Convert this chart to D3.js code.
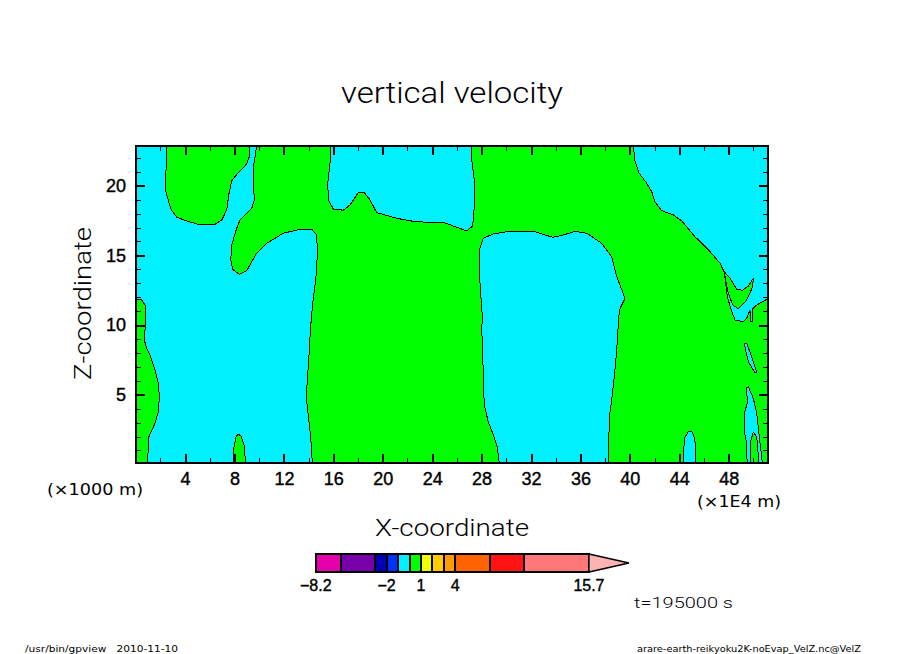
<!DOCTYPE html>
<html>
<head>
<meta charset="utf-8">
<script src="https://cdn.jsdelivr.net/npm/d3@7"></script>
<style>
  html, body { margin: 0; padding: 0; background: #fff; }
  text { font-family: "DejaVu Sans", "Liberation Sans", sans-serif; fill: #000; }
  .contour { stroke: #000; stroke-width: 1; shape-rendering: crispEdges; }
</style>
</head>
<body>
<svg id="chart"></svg>
<script>
// Constant values
const width = 904;
const height = 654;
const margin = { top: 146, right: 136, bottom: 191, left: 136 };

const CYAN = "#00f0ff";
const GREEN = "#00ff00";

// Axis domains and ticks
const xDomain = [0.03, 51.18];
const zDomain = [0.1, 22.85];
const xMajor = [4, 8, 12, 16, 20, 24, 28, 32, 36, 40, 44, 48];
const xMinor = [2, 6, 10, 14, 18, 22, 26, 30, 34, 38, 42, 46, 50];
const zMajor = [5, 10, 15, 20];
const zMinor = [1, 2, 3, 4, 6, 7, 8, 9, 11, 12, 13, 14, 16, 17, 18, 19, 21, 22];

// Contour outlines, [x, z]
const greenTopLeft = [[2.48, 22.85], [2.48, 21.28], [2.40, 20.65], [2.40, 19.70], [2.60, 19.10], [2.86, 18.31], [3.33, 17.74], [4.14, 17.47], [5.07, 17.23], [6.43, 17.23], [6.97, 17.54], [7.37, 18.26], [7.56, 19.46], [7.78, 20.36], [8.31, 20.94], [8.99, 21.56], [9.20, 22.09], [9.23, 22.85]];
const greenLeftEdge = [[0.03, 11.85], [0.49, 11.80], [0.79, 11.39], [0.79, 10.00], [0.70, 8.93], [0.90, 8.33], [1.22, 7.73], [1.57, 6.77], [1.84, 5.82], [1.92, 4.86], [1.84, 3.78], [1.57, 2.95], [1.08, 1.99], [0.98, 0.46], [0.95, 0.1], [0.03, 0.1]];
const greenBump = [[7.91, 0.1], [7.94, 1.15], [8.13, 1.99], [8.31, 2.16], [8.53, 2.04], [8.77, 1.39], [8.91, 0.1]];
const greenMain = [[9.80, 22.85], [9.58, 21.61], [9.53, 20.18], [9.61, 18.98], [9.40, 18.38], [8.45, 17.54], [8.18, 16.95], [7.78, 15.75], [7.70, 14.67], [7.86, 14.00], [8.39, 13.64], [8.99, 13.90], [9.80, 15.17], [10.61, 15.87], [11.95, 16.59], [13.30, 16.87], [14.25, 16.87], [14.66, 16.46], [14.70, 15.39], [14.66, 13.95], [14.52, 12.88], [14.32, 11.44], [14.14, 9.64], [14.06, 8.21], [13.90, 6.06], [13.81, 4.86], [13.98, 3.42], [14.17, 1.99], [14.30, 0.1], [51.18, 0.1], [51.18, 11.87], [51.07, 11.85], [50.27, 11.44], [49.91, 11.13], [49.94, 10.24], [49.75, 10.24], [49.72, 11.08], [49.46, 10.49], [49.18, 10.24], [48.51, 10.36], [48.16, 11.20], [47.89, 12.04], [47.72, 13.23], [47.62, 13.83], [47.30, 14.43], [46.49, 15.27], [45.27, 16.34], [44.20, 17.47], [43.52, 17.90], [42.58, 18.21], [42.03, 18.86], [41.77, 19.57], [41.36, 20.18], [40.76, 20.89], [40.42, 21.73], [40.28, 22.85]];
const greenLobe = [[47.64, 13.83], [48.10, 13.36], [48.65, 12.57], [49.13, 12.50], [49.59, 12.80], [49.99, 13.36], [49.94, 12.75], [49.46, 11.80], [48.78, 11.17], [48.32, 11.44], [47.97, 12.28], [47.78, 13.11]];
const cyanTop = [[15.79, 22.85], [15.73, 21.61], [15.55, 20.18], [15.60, 18.98], [16.00, 18.33], [16.81, 18.24], [17.35, 18.62], [18.02, 19.50], [18.48, 19.53], [18.97, 18.98], [19.51, 18.07], [21.13, 17.66], [22.75, 17.40], [24.90, 17.38], [25.71, 17.11], [26.80, 16.75], [27.28, 17.11], [27.41, 18.50], [27.41, 20.41], [27.20, 21.85], [27.17, 22.85]];
const cyanCentre = [[29.43, 0.1], [29.27, 1.27], [28.95, 2.11], [28.54, 3.06], [28.22, 4.26], [28.14, 6.06], [28.09, 8.21], [28.01, 9.64], [28.06, 10.60], [27.87, 13.00], [27.82, 15.39], [28.14, 16.23], [28.95, 16.54], [30.03, 16.70], [32.19, 16.73], [33.13, 16.46], [33.80, 16.30], [34.61, 16.46], [35.56, 16.73], [36.51, 16.59], [37.72, 15.87], [38.53, 14.91], [38.94, 13.47], [39.61, 11.92], [39.15, 11.08], [38.98, 8.93], [38.94, 8.21], [38.74, 6.29], [38.53, 4.62], [38.34, 3.42], [38.26, 0.1]];
const cyanBump = [[44.32, 0.1], [44.41, 1.87], [44.73, 2.37], [45.05, 2.32], [45.27, 1.75], [45.30, 0.1]];
const cyanSliver = [[49.26, 8.64], [49.46, 8.69], [49.86, 7.73], [50.27, 6.58], [50.13, 6.58], [49.59, 7.37]];
const cyanLowerRight = [[49.46, 5.53], [49.59, 5.57], [49.99, 4.74], [50.27, 3.66], [50.48, 1.99], [50.72, 0.1], [50.45, 0.1], [50.27, 1.99], [49.99, 2.30], [49.80, 1.75], [49.72, 0.1], [49.50, 0.1], [49.40, 1.75], [49.26, 2.34], [49.26, 3.66], [49.50, 4.38]];

// Colour bar
const barLevels = [-8.2, -6, -3, -2, -1, 0, 1, 2, 3, 4, 7, 10, 15.7];
const barColors = ["#e600aa", "#7800aa", "#0000b4", "#0032ff", CYAN, GREEN, "#f0ff00", "#ffcd00", "#ff9b00", "#ff6400", "#ff1414", "#ff7878"];
const barTicks = [-8.2, -2, 1, 4, 15.7];
const barTip = 19.2;
const barTipColor = "#ffb4b4";

// Create the SVG
const svg = d3.select("#chart")
    .attr("width", width)
    .attr("height", height)
    .style("display", "block");

// Create x and z scales
const xScale = d3.scaleLinear().domain(xDomain).range([margin.left, width - margin.right]);
const zScale = d3.scaleLinear().domain(zDomain).range([height - margin.bottom, margin.top]);
const plotW = width - margin.left - margin.right;
const plotH = height - margin.top - margin.bottom;

svg.append("clipPath").attr("id", "plot-clip")
    .append("rect")
    .attr("x", margin.left).attr("y", margin.top)
    .attr("width", plotW).attr("height", plotH);

// Contour fills
const plot = svg.append("g").attr("clip-path", "url(#plot-clip)");
plot.append("rect")
    .attr("x", margin.left).attr("y", margin.top)
    .attr("width", plotW).attr("height", plotH)
    .attr("fill", CYAN);

const outline = d3.line().x(d => xScale(d[0])).y(d => zScale(d[1]));
const regions = [
    [greenMain, GREEN], [greenTopLeft, GREEN], [greenLeftEdge, GREEN], [greenBump, GREEN],
    [cyanTop, CYAN], [cyanCentre, CYAN], [cyanBump, CYAN], [cyanSliver, CYAN], [cyanLowerRight, CYAN],
    [greenLobe, GREEN]
];
plot.selectAll("path.contour")
    .data(regions)
    .enter()
    .append("path")
    .attr("class", "contour")
    .attr("d", d => outline(d[0]) + "Z")
    .attr("fill", d => d[1]);

// Axes, all ticks pointing inward; padding 0 means no labels
function drawAxis(axis, pos, values, size, padding, thick) {
    const g = svg.append("g")
        .attr("transform", `translate(${pos[0]}, ${pos[1]})`)
        .call(axis.tickValues(values).tickSizeInner(size).tickSizeOuter(0)
            .tickPadding(padding)
            .tickFormat(padding ? d3.format("d") : ""));
    g.select(".domain").remove();
    g.selectAll("line").attr("stroke", "#000").attr("stroke-width", thick).style("shape-rendering", "crispEdges");
    g.selectAll("text")
        .style("font-size", "18px")
        .style("font-family", "Liberation Sans")
        .style("stroke", "#000")
        .style("stroke-width", 0.4);
    return g;
}

const bottomY = height - margin.bottom;
const rightX = width - margin.right;
drawAxis(d3.axisBottom(xScale), [0, bottomY], xMajor, -9, 9, 2);
drawAxis(d3.axisBottom(xScale), [0, bottomY], xMinor, -5, 0, 1);
drawAxis(d3.axisTop(xScale), [0, margin.top], xMajor, -9, 0, 2);
drawAxis(d3.axisTop(xScale), [0, margin.top], xMinor, -5, 0, 1);
drawAxis(d3.axisLeft(zScale), [margin.left, 0], zMajor, -9, 10, 2);
drawAxis(d3.axisLeft(zScale), [margin.left, 0], zMinor, -5, 0, 1);
drawAxis(d3.axisRight(zScale), [rightX, 0], zMajor, -9, 0, 2);
drawAxis(d3.axisRight(zScale), [rightX, 0], zMinor, -5, 0, 1);

svg.append("rect")
    .attr("x", margin.left).attr("y", margin.top)
    .attr("width", plotW).attr("height", plotH)
    .attr("fill", "none").attr("stroke", "#000").attr("stroke-width", 2)
    .style("shape-rendering", "crispEdges");

// Text helper, textLength keeps the long stroke-font widths
function label(str, x, y, size, len, opts) {
    opts = opts || {};
    const t = svg.append("text")
        .attr("x", x).attr("y", y)
        .attr("text-anchor", "start")
        .attr("font-size", size)
        .attr("textLength", len)
        .attr("lengthAdjust", "spacingAndGlyphs")
        .style("font-family", opts.family || "Roboto")
        .style("font-weight", opts.weight || 300)
        .text(str);
    if (opts.rotate) t.attr("transform", `rotate(-90 ${x} ${y})`);
    return t;
}

label("vertical velocity", 341, 103, 30, 222);
label("X-coordinate", 375, 536, 24, 154);
label("Z-coordinate", 91, 380, 24, 153, { rotate: true });
label("(\u00d71000 m)", 47, 495, 15, 96, { family: "DejaVu Sans", weight: 400 });
label("(\u00d71E4 m)", 697, 507, 15, 84, { family: "DejaVu Sans", weight: 400 });
label("t=195000 s", 634, 608, 15, 99);
label("/usr/bin/gpview   2010-11-10", 25, 652, 9, 153, { family: "DejaVu Sans", weight: 400 }).style("white-space", "pre");
label("arare-earth-reikyoku2K-noEvap_VelZ.nc@VelZ", 637, 652, 9, 224, { family: "DejaVu Sans", weight: 400 });

// Colour bar
const barScale = d3.scaleLinear().domain([0, 10]).range([409.5, 523.8]);
const barTop = 554;
const barH = 18;
const bar = svg.append("g");
bar.selectAll("rect")
    .data(barColors)
    .enter()
    .append("rect")
    .attr("x", (d, i) => barScale(barLevels[i]))
    .attr("y", barTop)
    .attr("width", (d, i) => barScale(barLevels[i + 1]) - barScale(barLevels[i]))
    .attr("height", barH)
    .attr("fill", d => d)
    .attr("stroke", "#000")
    .attr("stroke-width", 2)
    .style("shape-rendering", "crispEdges");
bar.append("path")
    .attr("d", d3.line()([
        [barScale(barLevels[barLevels.length - 1]), barTop],
        [barScale(barTip), barTop + barH / 2],
        [barScale(barLevels[barLevels.length - 1]), barTop + barH]
    ]) + "Z")
    .attr("fill", barTipColor)
    .attr("stroke", "#000")
    .attr("stroke-width", 1.5);
bar.selectAll("text")
    .data(barTicks)
    .enter()
    .append("text")
    .attr("x", d => barScale(d))
    .attr("y", 591)
    .attr("text-anchor", "middle")
    .attr("font-size", 16)
    .style("font-family", "Liberation Sans")
    .style("stroke", "#000")
    .style("stroke-width", 0.4)
    .text(d => String(d).replace("-", "\u2212"));
</script>
</body>
</html>
